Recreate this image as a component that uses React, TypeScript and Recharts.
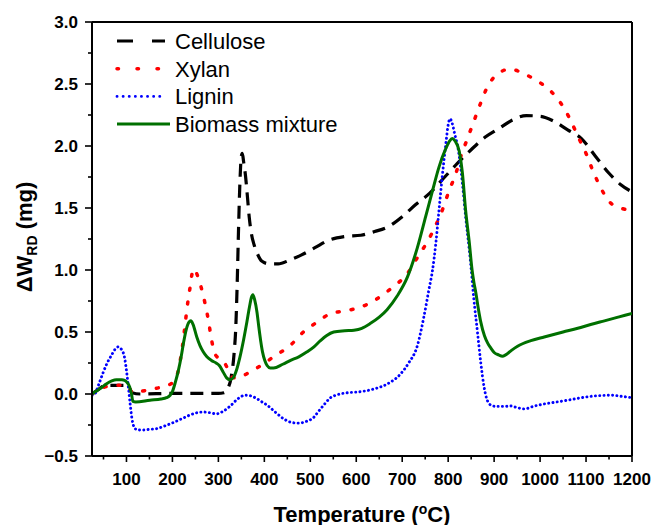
import React from 'react';
import { LineChart, Line, XAxis, YAxis, ReferenceLine, Legend, Label } from 'recharts';

// ---- data (temperature °C, ΔW_RD mg) ----
const xTicks = [50, 100, 150, 200, 250, 300, 350, 400, 450, 500, 550, 600, 650, 700, 750, 800, 850, 900, 950, 1000, 1050, 1100, 1150, 1200];
const yTicks = [-0.5, -0.25, 0, 0.25, 0.5, 0.75, 1, 1.25, 1.5, 1.75, 2, 2.25, 2.5, 2.75, 3];
const seriesNames = ['Cellulose', 'Xylan', 'Lignin', 'Biomass mixture'];

const cellulose = [
  [25, 0.0], [40, 0.04], [55, 0.07], [100, 0.07], [106, 0.05], [112, 0.01], [130, 0.0], [200, 0.005], [300, 0.005],
  [312, 0.01], [320, 0.04], [328, 0.14], [334, 0.32], [338, 0.55], [341, 0.9], [344, 1.35], [347, 1.72], [350, 1.92],
  [352, 1.94], [355, 1.87], [359, 1.76], [363, 1.6], [367, 1.43], [372, 1.29], [378, 1.2], [385, 1.13], [395, 1.07],
  [410, 1.05], [430, 1.05], [455, 1.08], [480, 1.12], [510, 1.18], [540, 1.24], [575, 1.27], [610, 1.28], [640, 1.31],
  [670, 1.35], [700, 1.43], [730, 1.53], [760, 1.62], [790, 1.74], [820, 1.86], [850, 1.97], [880, 2.07], [910, 2.14],
  [940, 2.21], [970, 2.245], [1000, 2.24], [1030, 2.2], [1060, 2.13], [1090, 2.06], [1120, 1.92], [1150, 1.78],
  [1175, 1.69], [1200, 1.63],
];

const xylan = [
  [25, 0.0], [48, 0.05], [70, 0.07], [95, 0.07], [105, 0.05], [114, 0.01], [130, 0.02], [150, 0.035], [180, 0.06],
  [200, 0.09], [210, 0.15], [216, 0.25], [222, 0.39], [227, 0.54], [232, 0.7], [238, 0.85], [244, 0.99], [248, 1.01],
  [254, 0.96], [261, 0.88], [271, 0.73], [278, 0.6], [285, 0.44], [292, 0.33], [300, 0.29], [310, 0.27], [318, 0.22],
  [325, 0.16], [335, 0.13], [350, 0.14], [365, 0.17], [384, 0.21], [405, 0.26], [420, 0.3], [456, 0.39], [485, 0.5],
  [515, 0.58], [545, 0.65], [576, 0.67], [609, 0.7], [642, 0.76], [665, 0.82], [686, 0.88], [711, 0.97], [733, 1.1],
  [755, 1.23], [773, 1.36], [790, 1.51], [802, 1.64], [817, 1.78], [827, 1.91], [842, 2.06], [855, 2.19], [870, 2.34],
  [882, 2.45], [904, 2.57], [935, 2.62], [966, 2.58], [996, 2.52], [1024, 2.44], [1046, 2.34], [1066, 2.21],
  [1082, 2.08], [1100, 1.94], [1115, 1.8], [1131, 1.67], [1151, 1.55], [1175, 1.5], [1200, 1.48],
];

const lignin = [
  [25, -0.01], [31, 0.0], [40, 0.08], [49, 0.17], [58, 0.25], [67, 0.31], [75, 0.36], [82, 0.38], [89, 0.36],
  [96, 0.29], [100, 0.19], [104, 0.06], [108, -0.08], [112, -0.2], [117, -0.27], [124, -0.29], [136, -0.29],
  [150, -0.285], [165, -0.28], [185, -0.255], [202, -0.23], [220, -0.2], [238, -0.17], [255, -0.15], [267, -0.145],
  [280, -0.15], [296, -0.16], [310, -0.14], [325, -0.1], [342, -0.04], [358, -0.01], [370, -0.015], [380, -0.03],
  [393, -0.06], [406, -0.09], [425, -0.15], [442, -0.2], [460, -0.23], [475, -0.235], [492, -0.22], [507, -0.19],
  [518, -0.14], [529, -0.09], [544, -0.03], [560, -0.005], [580, 0.01], [602, 0.016], [620, 0.025], [638, 0.04],
  [667, 0.08], [696, 0.16], [714, 0.25], [733, 0.39], [747, 0.62], [758, 0.84], [766, 1.0], [773, 1.21], [780, 1.48],
  [787, 1.75], [795, 2.02], [800, 2.17], [804, 2.22], [809, 2.18], [814, 2.1], [822, 1.97], [831, 1.7], [838, 1.43],
  [846, 1.16], [849, 1.05], [856, 0.76], [864, 0.49], [871, 0.25], [878, 0.06], [884, -0.04], [893, -0.09],
  [904, -0.1], [920, -0.1], [937, -0.097], [950, -0.11], [966, -0.12], [985, -0.1], [1009, -0.08], [1035, -0.065],
  [1060, -0.05], [1090, -0.03], [1118, -0.016], [1155, -0.01], [1180, -0.02], [1200, -0.03],
];

const biomass = [
  [25, 0.0], [31, 0.016], [45, 0.05], [56, 0.08], [68, 0.105], [78, 0.115], [90, 0.115], [96, 0.11], [102, 0.09],
  [107, 0.056], [111, 0.0], [114, -0.06], [120, -0.065], [151, -0.05], [175, -0.04], [187, -0.03], [195, -0.01],
  [200, 0.02], [206, 0.09], [213, 0.19], [219, 0.3], [224, 0.41], [230, 0.52], [236, 0.58], [240, 0.59], [245, 0.56],
  [253, 0.46], [260, 0.39], [267, 0.34], [275, 0.3], [285, 0.27], [295, 0.25], [302, 0.23], [310, 0.18], [318, 0.13],
  [325, 0.115], [332, 0.13], [340, 0.2], [347, 0.3], [355, 0.44], [362, 0.58], [368, 0.71], [372, 0.78], [375, 0.8],
  [379, 0.76], [384, 0.66], [388, 0.54], [392, 0.43], [396, 0.34], [401, 0.27], [406, 0.23], [413, 0.21], [420, 0.21],
  [440, 0.24], [456, 0.27], [475, 0.3], [493, 0.34], [508, 0.38], [522, 0.43], [535, 0.47], [551, 0.5], [575, 0.51],
  [595, 0.515], [612, 0.53], [631, 0.57], [650, 0.62], [667, 0.68], [689, 0.79], [711, 0.94], [733, 1.18],
  [751, 1.43], [766, 1.64], [780, 1.83], [795, 1.98], [803, 2.04], [809, 2.06], [815, 2.04], [824, 1.96], [831, 1.78],
  [838, 1.48], [846, 1.22], [852, 1.0], [856, 0.9], [860, 0.82], [866, 0.68], [871, 0.58], [879, 0.47], [886, 0.41],
  [893, 0.37], [900, 0.335], [910, 0.315], [918, 0.305], [925, 0.315], [937, 0.35], [951, 0.385], [980, 0.43],
  [1009, 0.46], [1050, 0.5], [1082, 0.53], [1110, 0.56], [1140, 0.59], [1170, 0.62], [1200, 0.65],
];

const toPts = (arr: number[][]) => arr.map(([t, v]) => ({ t, v }));

const FONT = '"Liberation Sans", Arial, Helvetica, sans-serif';

const styles = [
  { color: '#000000', width: 3.2, dash: '13 8', cap: 'butt', legendDash: '16 19', legendWidth: 3.2 },
  { color: '#ff0000', width: 3.5, dash: '2 12', cap: 'round', legendDash: '1.5 18.5', legendWidth: 3.5 },
  { color: '#0000ff', width: 2.9, dash: '0.1 4.2', cap: 'round', legendDash: '0.1 6', legendWidth: 2.8 },
  { color: '#007000', width: 3, dash: undefined, cap: 'butt', legendDash: undefined, legendWidth: 3 },
];

const XTick = (props: any) => {
  const { x, y, payload } = props;
  const v = payload.value;
  const major = v % 100 === 0;
  return (
    <g>
      <line x1={x} x2={x} y1={y} y2={y + (major ? 6 : 3.5)} stroke="#000" strokeWidth={1.6} />
      {major && (
        <text x={x} y={y + 29} textAnchor="middle" fontFamily={FONT} fontWeight="bold" fontSize={17} fill="#000">
          {v}
        </text>
      )}
    </g>
  );
};

const YTick = (props: any) => {
  const { x, y, payload } = props;
  const v = payload.value;
  const major = Math.abs(v * 2 - Math.round(v * 2)) < 1e-6;
  const label = v < 0 ? '\u2212' + Math.abs(v).toFixed(1) : v.toFixed(1);
  return (
    <g>
      <line x1={x} x2={x - (major ? 7 : 4)} y1={y} y2={y} stroke="#000" strokeWidth={1.6} />
      {major && (
        <text x={x - 14} y={y + 6} textAnchor="end" fontFamily={FONT} fontWeight="bold" fontSize={17} fill="#000">
          {label}
        </text>
      )}
    </g>
  );
};

const renderLegend = () => (
  <svg width={380} height={150} style={{ display: 'block' }}>
    {seriesNames.map((name, i) => {
      const y = 41 + i * 27.7;
      const s = styles[i];
      return (
        <g key={name}>
          <line
            x1={117}
            x2={i === 3 ? 170 : 165}
            y1={y}
            y2={y}
            stroke={s.color}
            strokeWidth={s.legendWidth}
            strokeDasharray={s.legendDash}
            strokeLinecap={s.cap as any}
          />
          <text x={175} y={y + 8} fontFamily={FONT} fontSize={22} fill="#000">
            {name}
          </text>
        </g>
      );
    })}
  </svg>
);

const XTitle = () => (
  <text x={362} y={521.5} textAnchor="middle" fontFamily={FONT} fontWeight="bold" fontSize={22} fill="#000">
    Temperature (
    <tspan fontSize={14} dy={-8}>o</tspan>
    <tspan dy={8}>C)</tspan>
  </text>
);

const YTitle = () => (
  <text
    x={0}
    y={0}
    transform="translate(31.5, 237) rotate(-90)"
    textAnchor="middle"
    fontFamily={FONT}
    fontWeight="bold"
    fontSize={22}
    fill="#000"
  >
    {'\u0394W'}
    <tspan fontSize={14} dy={5}>RD</tspan>
    <tspan dy={-5}> (mg)</tspan>
  </text>
);

export default function App() {
  const series = [cellulose, xylan, lignin, biomass];
  return (
    <div style={{ position: 'absolute', left: 0, top: 0, background: '#fff' }}>
      <LineChart width={653} height={525} margin={{ top: 22, right: 21, bottom: 0, left: 0 }}>
        <XAxis
          dataKey="t"
          type="number"
          domain={[25, 1200]}
          ticks={xTicks}
          interval={0}
          allowDataOverflow
          height={69}
          tickSize={0}
          tickMargin={0}
          tickLine={false}
          tick={<XTick />}
          axisLine={{ stroke: '#000', strokeWidth: 2 }}
        >
          <Label content={<XTitle />} />
        </XAxis>
        <YAxis
          type="number"
          domain={[-0.5, 3]}
          ticks={yTicks}
          interval={0}
          allowDataOverflow
          width={92}
          tickSize={0}
          tickMargin={0}
          tickLine={false}
          tick={<YTick />}
          axisLine={{ stroke: '#000', strokeWidth: 2 }}
        >
          <Label content={<YTitle />} />
        </YAxis>
        <ReferenceLine y={3} stroke="#000" strokeWidth={2} />
        <ReferenceLine x={1200} stroke="#000" strokeWidth={2} />
        {series.map((arr, i) => (
          <Line
            key={seriesNames[i]}
            data={toPts(arr)}
            dataKey="v"
            name={seriesNames[i]}
            type="monotone"
            stroke={styles[i].color}
            strokeWidth={styles[i].width}
            strokeDasharray={styles[i].dash}
            strokeLinecap={styles[i].cap as any}
            dot={false}
            activeDot={false}
            isAnimationActive={false}
          />
        ))}
        <Legend
          layout="vertical"
          align="center"
          verticalAlign="middle"
          content={renderLegend}
          wrapperStyle={{ position: 'absolute', left: 0, top: 0, width: 380, height: 150 }}
        />
      </LineChart>
    </div>
  );
}
